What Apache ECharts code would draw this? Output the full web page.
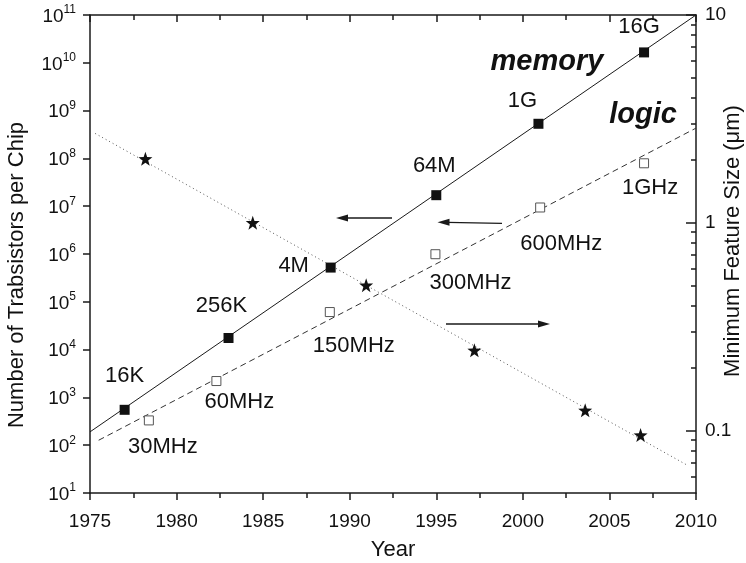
<!DOCTYPE html>
<html><head><meta charset="utf-8">
<script src="https://cdn.jsdelivr.net/npm/echarts@6/dist/echarts.min.js"></script>
<style>html,body{margin:0;padding:0;background:#fff}#c{width:746px;height:563px}</style>
</head><body><div id="c"></div>
<script>
// ---- data ----
const memoryYears  = [1977, 1983, 1988.9, 1995, 2000.9, 2007];
const memoryValues = [550, 17500, 520000, 1.7e7, 5.3e8, 1.65e10];
const memoryLabels = ['16K', '256K', '4M', '64M', '1G', '16G'];
const memoryFitYears  = [1975, 2010];
const memoryFitValues = [190, 1e11];

const logicYears  = [1978.4, 1982.3, 1988.85, 1994.95, 2001, 2007];
const logicValues = [330, 2200, 61000, 990000, 9.4e6, 7.9e7];
const logicLabels = ['30MHz', '60MHz', '150MHz', '300MHz', '600MHz', '1GHz'];
const logicFitYears  = [1975.5, 2010];
const logicFitValues = [127, 4.3e8];

const featureYears  = [1978.2, 1984.4, 1990.95, 1997.2, 2003.6, 2006.8];
const featureValues = [2.03, 1.0, 0.5, 0.243, 0.125, 0.095];
const featureFitYears  = [1975.3, 2009.5];
const featureFitValues = [2.69, 0.068];

const leftTicks = [10, 1e2, 1e3, 1e4, 1e5, 1e6, 1e7, 1e8, 1e9, 1e10, 1e11];
const rightTicks = [0.1, 1, 10];
const rightMinorTicks = [0.06, 0.07, 0.08, 0.09, 0.2, 0.3, 0.4, 0.5, 0.6, 0.7, 0.8, 0.9, 2, 3, 4, 5, 6, 7, 8, 9];

// ---- styling (not data) ----
const memoryLabelOffsets = [[0, -34], [-7, -32], [-37, -2], [-2, -29], [-16, -23], [-5, -25]];
const logicLabelOffsets  = [[14, 27], [23, 21], [24, 34], [35, 29], [21, 36], [6, 25]];
const FONT = '"Liberation Sans", Arial, sans-serif';
const INK = '#1a1a1a';
const TXT = '#111';
const STAR = 'path://M0,-10 L2.35,-3.24 L9.51,-3.09 L3.8,1.24 L5.88,8.09 L0,4 L-5.88,8.09 L-3.8,1.24 L-9.51,-3.09 L-2.35,-3.24 Z';

const zip = (a, b) => a.map((v, i) => [v, b[i]]);
function labelled(xs, ys, names, offsets) {
  return xs.map((x, i) => ({
    value: [x, ys[i]],
    label: { show: true, formatter: names[i], position: 'inside', offset: offsets[i],
             fontSize: 22, color: TXT, fontFamily: FONT, textBorderWidth: 0, textShadowBlur: 0 }
  }));
}

const axisLine = { show: true, lineStyle: { color: INK, width: 1.5 } };

const option = {
  animation: false,
  backgroundColor: '#fff',
  grid: { left: 90, right: 50, top: 15, bottom: 70, containLabel: false, outerBoundsMode: 'none' },
  xAxis: [
    { type: 'value', position: 'bottom', min: 1975, max: 2010, interval: 5,
      axisLine, splitLine: { show: false },
      axisTick: { show: true, length: 7, lineStyle: { color: INK, width: 1.5 } },
      minorTick: { show: true, splitNumber: 2, length: 5, lineStyle: { color: INK, width: 1.5 } },
      axisLabel: { fontSize: 19, color: TXT, fontFamily: FONT, margin: 19, formatter: v => String(v) },
      name: 'Year', nameLocation: 'middle', nameGap: 46,
      nameTextStyle: { fontSize: 22, color: TXT, fontFamily: FONT } },
    { type: 'value', position: 'top', min: 1975, max: 2010, interval: 5,
      axisLine, splitLine: { show: false },
      axisTick: { show: true, inside: true, length: 7, lineStyle: { color: INK, width: 1.5 } },
      minorTick: { show: true, splitNumber: 2, length: 5, lineStyle: { color: INK, width: 1.5 } },
      axisLabel: { show: false } }
  ],
  yAxis: [
    { type: 'log', logBase: 10, position: 'left', min: 10, max: 1e11,
      axisLine, splitLine: { show: false },
      axisTick: { show: true, length: 7, customValues: leftTicks, lineStyle: { color: INK, width: 1.5 } },
      axisLabel: { customValues: leftTicks, margin: 14, color: TXT, fontFamily: FONT,
        formatter: v => '{b|10}{s|' + Math.round(Math.log10(v)) + '}',
        rich: { b: { fontSize: 19, color: TXT, fontFamily: FONT, lineHeight: 22, verticalAlign: 'bottom' },
                s: { fontSize: 12, color: TXT, fontFamily: FONT, lineHeight: 12, verticalAlign: 'top' } } },
      name: 'Number of Trabsistors per Chip', nameLocation: 'middle', nameGap: 62, nameRotate: 90,
      nameTextStyle: { fontSize: 22, color: TXT, fontFamily: FONT, padding: [0, 42, 0, 0] } },
    { type: 'log', logBase: 10, position: 'right', min: 0.05, max: 10,
      axisLine, splitLine: { show: false },
      axisTick: { show: true, inside: true, length: 10, customValues: rightTicks, lineStyle: { color: INK, width: 1.5 } },
      axisLabel: { customValues: rightTicks, margin: 9, fontSize: 19, color: TXT, fontFamily: FONT,
        formatter: v => (v < 1 ? Number(v).toFixed(1) : String(Math.round(v))) },
      name: 'Minimum Feature Size (\u03bcm)', nameLocation: 'middle', nameGap: 26, nameRotate: 90,
      nameMoveOverlap: false,
      nameTextStyle: { fontSize: 22, color: TXT, fontFamily: FONT, padding: [0, 0, 0, 26] } },
    { type: 'log', logBase: 10, position: 'right', min: 0.05, max: 10,
      axisLine: { show: false }, splitLine: { show: false },
      axisTick: { show: true, inside: true, length: 5, customValues: rightMinorTicks, lineStyle: { color: INK, width: 1.5 } },
      axisLabel: { show: false } }
  ],
  series: [
    { type: 'line', xAxisIndex: 0, yAxisIndex: 0, data: zip(memoryFitYears, memoryFitValues),
      showSymbol: false, symbol: 'none', lineStyle: { color: INK, width: 1 }, z: 2 },
    { type: 'line', xAxisIndex: 0, yAxisIndex: 0, data: zip(logicFitYears, logicFitValues),
      showSymbol: false, symbol: 'none', lineStyle: { color: '#333', width: 1, type: [6, 4] }, z: 2 },
    { type: 'line', xAxisIndex: 0, yAxisIndex: 1, data: zip(featureFitYears, featureFitValues),
      showSymbol: false, symbol: 'none', lineStyle: { color: '#555', width: 1, type: [1, 3] }, z: 2 },
    { type: 'scatter', xAxisIndex: 0, yAxisIndex: 0, symbol: 'rect', symbolSize: 10,
      itemStyle: { color: '#111', opacity: 1 }, data: labelled(memoryYears, memoryValues, memoryLabels, memoryLabelOffsets), z: 5 },
    { type: 'scatter', xAxisIndex: 0, yAxisIndex: 0, symbol: 'rect', symbolSize: 9,
      itemStyle: { color: '#fff', borderColor: '#555', borderWidth: 1, opacity: 1 },
      data: labelled(logicYears, logicValues, logicLabels, logicLabelOffsets), z: 5 },
    { type: 'scatter', xAxisIndex: 0, yAxisIndex: 1, symbol: STAR, symbolSize: 14,
      itemStyle: { color: '#111', opacity: 1 }, data: zip(featureYears, featureValues), z: 5 }
  ],
  graphic: [
    { type: 'text', x: 547, y: 62, style: { text: 'memory', font: 'italic bold 29px ' + FONT, fill: TXT, align: 'center', verticalAlign: 'middle' } },
    { type: 'text', x: 643, y: 115, style: { text: 'logic', font: 'italic bold 29px ' + FONT, fill: TXT, align: 'center', verticalAlign: 'middle' } },
    // arrows
    { type: 'line', shape: { x1: 346, y1: 218, x2: 392, y2: 218 }, style: { stroke: INK, lineWidth: 1.3 } },
    { type: 'polygon', shape: { points: [[336, 218], [348, 214.5], [348, 221.5]] }, style: { fill: INK } },
    { type: 'line', shape: { x1: 447, y1: 222.3, x2: 502, y2: 223.3 }, style: { stroke: INK, lineWidth: 1.3 } },
    { type: 'polygon', shape: { points: [[437.5, 222.2], [449.5, 218.8], [449.5, 225.8]] }, style: { fill: INK } },
    { type: 'line', shape: { x1: 446, y1: 324, x2: 540, y2: 324 }, style: { stroke: INK, lineWidth: 1.3 } },
    { type: 'polygon', shape: { points: [[550, 324], [538, 320.5], [538, 327.5]] }, style: { fill: INK } }
  ]
};

const chart = echarts.init(document.getElementById('c'), null, { renderer: 'canvas' });
chart.setOption(option);
</script>
</body></html>
